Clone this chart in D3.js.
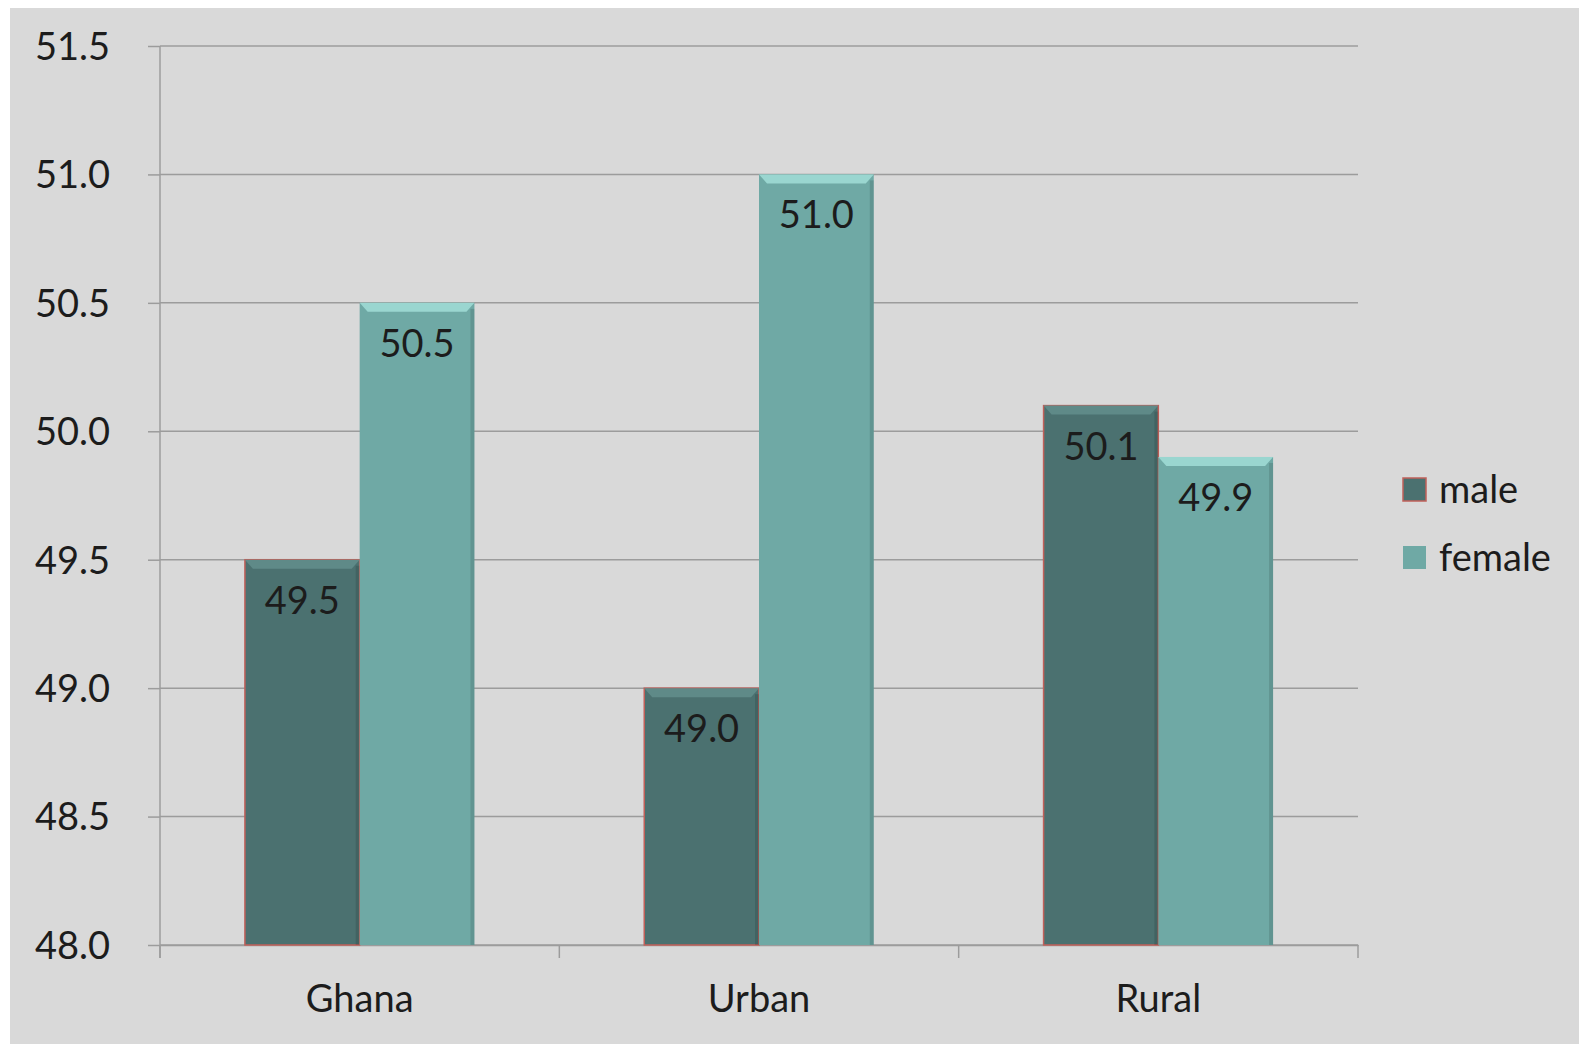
<!DOCTYPE html>
<html>
<head>
    <title>Sex ratio by locality</title>
    <style>
        html, body { margin: 0; padding: 0; background: #fff; overflow: hidden; }
        svg { display: block; }
        text { font-family: Lato, "Open Sans", sans-serif; fill: #1c1c1c; }
    </style>
</head>
<body>
    <script src="https://d3js.org/d3.v7.min.js"></script>
    <script>
        // data
        var categories = ["Ghana", "Urban", "Rural"];
        var seriesNames = ["male", "female"];
        var maleValues = [49.5, 49.0, 50.1];
        var femaleValues = [50.5, 51.0, 49.9];
        var yTicks = [48.0, 48.5, 49.0, 49.5, 50.0, 50.5, 51.0, 51.5];

        var width = 1579, height = 1044;
        var bgColor = "#d9d9d9",
            gridColor = "#9c9c9c",
            maleColor = "#4b7170",
            femaleColor = "#6fa9a5";

        var svg = d3.select("body").append("svg")
            .attr("width", width)
            .attr("height", height);

        // white strip on top / left, grey panel behind
        svg.append("rect")
            .attr("x", 10).attr("y", 8)
            .attr("width", width - 10).attr("height", height - 8)
            .attr("fill", bgColor);

        var x = d3.scaleBand()
            .domain(categories)
            .range([160, 1358]);

        var xInner = d3.scaleBand()
            .domain(seriesNames)
            .range([0, x.bandwidth()])
            .paddingOuter(0.74)
            .paddingInner(0);

        var y = d3.scaleLinear()
            .domain([48, 51.5])
            .range([945, 46]);

        // y axis labels + left tick stubs
        var yAxis = svg.append("g")
            .attr("transform", "translate(160,0)")
            .call(d3.axisLeft(y).tickValues(yTicks).tickSize(12).tickFormat(d3.format(".1f")));
        yAxis.select(".domain").remove();
        yAxis.selectAll(".tick line").attr("stroke", gridColor).attr("stroke-width", 1.5);
        yAxis.selectAll(".tick text")
            .attr("x", -50)
            .attr("dy", "0.35em")
            .style("font-size", "38px");

        // gridlines
        svg.append("g").selectAll("line")
            .data(yTicks)
            .join("line")
            .attr("x1", 160).attr("x2", 1358)
            .attr("y1", function(d) { return y(d); })
            .attr("y2", function(d) { return y(d); })
            .attr("stroke", gridColor)
            .attr("stroke-width", 1.5);

        svg.append("line")
            .attr("x1", 160).attr("x2", 160)
            .attr("y1", y(51.5)).attr("y2", 958)
            .attr("stroke", gridColor).attr("stroke-width", 1.5);

        // x axis
        var xAxis = svg.append("g")
            .attr("transform", "translate(0,945)")
            .call(d3.axisBottom(x).tickSize(0).tickPadding(40));
        xAxis.select(".domain").attr("stroke", gridColor).attr("stroke-width", 1.5);
        xAxis.selectAll(".tick text").style("font-size", "38px");

        // category separator ticks
        svg.append("g").selectAll("line")
            .data(categories.concat(["end"]))
            .join("line")
            .attr("x1", function(d, i) { return 160 + i * x.step(); })
            .attr("x2", function(d, i) { return 160 + i * x.step(); })
            .attr("y1", 945).attr("y2", 958)
            .attr("stroke", gridColor).attr("stroke-width", 1.5);

        // bars
        var rows = categories.map(function(c, i) {
            return { cat: c, bars: [
                { name: "male", value: maleValues[i], color: maleColor },
                { name: "female", value: femaleValues[i], color: femaleColor }
            ]};
        });

        var groups = svg.append("g").selectAll("g")
            .data(rows)
            .join("g")
            .attr("transform", function(d) { return "translate(" + x(d.cat) + ",0)"; });

        var bar = groups.selectAll("g")
            .data(function(d) { return d.bars; })
            .join("g");

        bar.append("rect")
            .attr("x", function(d) { return xInner(d.name); })
            .attr("y", function(d) { return y(d.value); })
            .attr("width", xInner.bandwidth())
            .attr("height", function(d) { return y(48) - y(d.value); })
            .attr("fill", function(d) { return d.color; })
            .attr("stroke", function(d) { return d.name == "male" ? "#c0605a" : "none"; })
            .attr("stroke-width", 1.5);

        // bevel: lighter top band and darker right edge
        bar.append("path")
            .attr("d", function(d) {
                var x0 = xInner(d.name), x1 = x0 + xInner.bandwidth(), t = y(d.value);
                return "M" + x0 + "," + t + "L" + x1 + "," + t +
                    "L" + (x1 - 8) + "," + (t + 9) + "L" + (x0 + 8) + "," + (t + 9) + "Z";
            })
            .attr("fill", function(d) {
                return d.name == "male" ? "#5f8a88" : "#9ad6d0";
            });

        bar.append("rect")
            .attr("x", function(d) { return xInner(d.name) + xInner.bandwidth() - 4; })
            .attr("y", function(d) { return y(d.value) + 6; })
            .attr("width", 4)
            .attr("height", function(d) { return y(48) - y(d.value) - 6; })
            .attr("fill", "#000")
            .attr("opacity", 0.12);

        bar.append("text")
            .attr("x", function(d) { return xInner(d.name) + xInner.bandwidth() / 2; })
            .attr("y", function(d) { return y(d.value) + 54; })
            .attr("text-anchor", "middle")
            .style("font-size", "38px")
            .text(function(d) { return d.value.toFixed(1); });

        // legend
        var legendColors = [maleColor, femaleColor];
        var legend = svg.append("g").selectAll("g")
            .data(seriesNames)
            .join("g")
            .attr("transform", function(d, i) { return "translate(1403," + (478 + i * 68) + ")"; });

        legend.append("rect")
            .attr("width", 23).attr("height", 23)
            .attr("fill", function(d, i) { return legendColors[i]; })
            .attr("stroke", function(d, i) { return i == 0 ? "#c0605a" : "none"; })
            .attr("stroke-width", 1.5);

        legend.append("text")
            .attr("x", 36)
            .attr("y", 12)
            .attr("dy", "0.35em")
            .style("font-size", "38px")
            .text(function(d) { return d; });
    </script>
</body>
</html>
